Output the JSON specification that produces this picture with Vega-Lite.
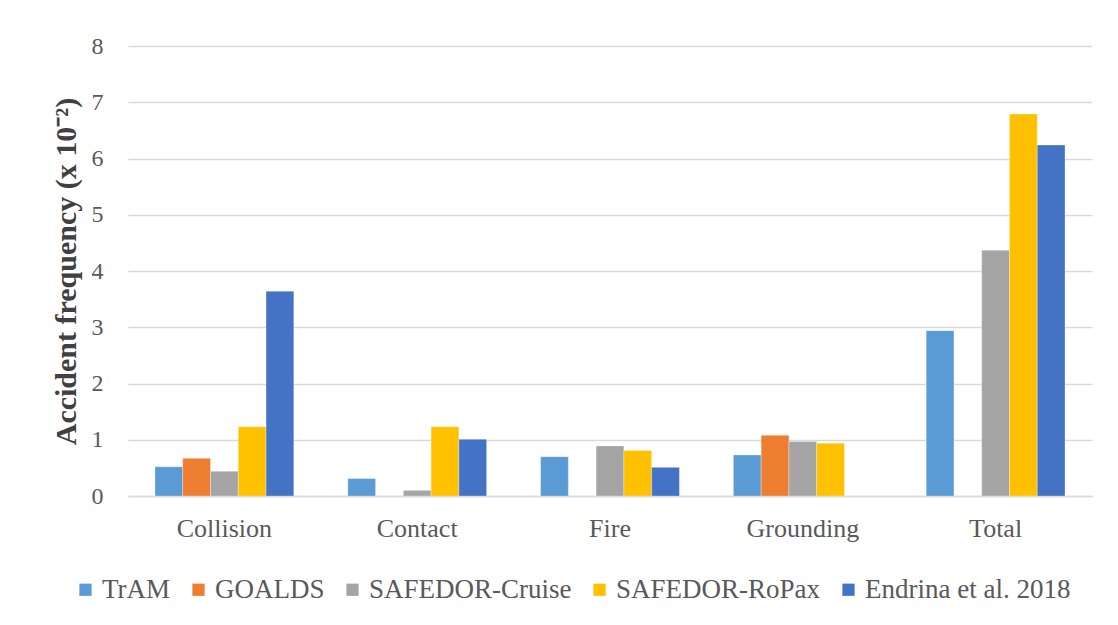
{
  "$schema": "https://vega.github.io/schema/vega-lite/v6.json",
  "autosize": "none",
  "width": 964,
  "height": 450,
  "padding": {"left": 128, "top": 46, "right": 26, "bottom": 129},
  "background": "white",
  "data": {
    "values": [
      {"category": "Collision", "source": "TrAM", "value": 0.52},
      {"category": "Collision", "source": "GOALDS", "value": 0.67},
      {"category": "Collision", "source": "SAFEDOR-Cruise", "value": 0.44},
      {"category": "Collision", "source": "SAFEDOR-RoPax", "value": 1.23},
      {"category": "Collision", "source": "Endrina et al. 2018", "value": 3.64},
      {"category": "Contact", "source": "TrAM", "value": 0.31},
      {"category": "Contact", "source": "SAFEDOR-Cruise", "value": 0.1},
      {"category": "Contact", "source": "SAFEDOR-RoPax", "value": 1.23},
      {"category": "Contact", "source": "Endrina et al. 2018", "value": 1.01},
      {"category": "Fire", "source": "TrAM", "value": 0.7},
      {"category": "Fire", "source": "SAFEDOR-Cruise", "value": 0.89},
      {"category": "Fire", "source": "SAFEDOR-RoPax", "value": 0.81},
      {"category": "Fire", "source": "Endrina et al. 2018", "value": 0.51},
      {"category": "Grounding", "source": "TrAM", "value": 0.73},
      {"category": "Grounding", "source": "GOALDS", "value": 1.08},
      {"category": "Grounding", "source": "SAFEDOR-Cruise", "value": 0.97},
      {"category": "Grounding", "source": "SAFEDOR-RoPax", "value": 0.94},
      {"category": "Total", "source": "TrAM", "value": 2.94},
      {"category": "Total", "source": "SAFEDOR-Cruise", "value": 4.37},
      {"category": "Total", "source": "SAFEDOR-RoPax", "value": 6.79},
      {"category": "Total", "source": "Endrina et al. 2018", "value": 6.24}
    ]
  },
  "mark": {"type": "bar", "stroke": "white", "strokeWidth": 0.5, "strokeOpacity": 0.6},
  "encoding": {
    "x": {
      "field": "category",
      "type": "nominal",
      "sort": ["Collision", "Contact", "Fire", "Grounding", "Total"],
      "scale": {"paddingInner": 0.28, "paddingOuter": 0.14},
      "axis": {
        "title": null,
        "labelAngle": 0,
        "ticks": false,
        "labelPadding": 19,
        "labelFontSize": 26,
        "labelFont": "Liberation Serif",
        "labelColor": "#595959",
        "domainColor": "#d9d9d9",
        "domainWidth": 1.5,
        "grid": false
      }
    },
    "xOffset": {
      "field": "source",
      "type": "nominal",
      "scale": {"domain": ["TrAM", "GOALDS", "SAFEDOR-Cruise", "SAFEDOR-RoPax", "Endrina et al. 2018"], "paddingInner": 0, "paddingOuter": 0}
    },
    "y": {
      "field": "value",
      "type": "quantitative",
      "scale": {"domain": [0, 8], "nice": false},
      "axis": {
        "title": "Accident frequency (x 10⁻²)",
        "titleFont": "Liberation Serif",
        "titleFontSize": 30,
        "titleFontWeight": "bold",
        "titleColor": "#404040",
        "titlePadding": 10,
        "values": [0, 1, 2, 3, 4, 5, 6, 7, 8],
        "ticks": false,
        "domain": false,
        "labelPadding": 25,
        "labelFontSize": 24,
        "labelFont": "Liberation Serif",
        "labelColor": "#595959",
        "gridColor": "#d9d9d9",
        "gridWidth": 1.5
      }
    },
    "color": {
      "field": "source",
      "type": "nominal",
      "scale": {
        "domain": ["TrAM", "GOALDS", "SAFEDOR-Cruise", "SAFEDOR-RoPax", "Endrina et al. 2018"],
        "range": ["#5B9BD5", "#ED7D31", "#A5A5A5", "#FFC000", "#4472C4"]
      },
      "legend": {
        "title": null,
        "orient": "none",
        "legendX": -56,
        "legendY": 530,
        "direction": "horizontal",
        "symbolType": "square",
        "symbolSize": 150,
        "symbolStrokeWidth": 0,
        "labelFont": "Liberation Serif",
        "labelFontSize": 27,
        "labelLimit": 500,
        "labelColor": "#595959",
        "labelOffset": 3,
        "columnPadding": 14
      }
    }
  },
  "config": {"view": {"stroke": null}}
}
